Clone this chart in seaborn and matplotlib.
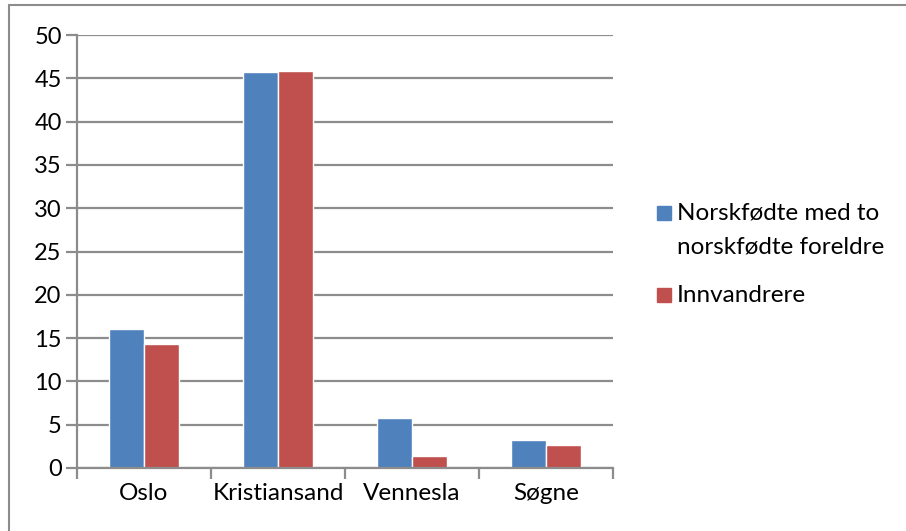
import matplotlib.pyplot as plt
import matplotlib.patches as mpatches
from matplotlib.lines import Line2D
from matplotlib.ticker import FixedLocator
import pandas as pd
import seaborn as sns

sns.set_theme(style='white')
plt.rcParams['font.family'] = ['Lato', 'DejaVu Sans']

KOMMUNER = ['Oslo', 'Kristiansand', 'Vennesla', 'Søgne']
GRUPPER = ['Norskfødte med to\nnorskfødte foreldre', 'Innvandrere']
NORSKFODTE = [16.1, 45.7, 5.8, 3.2]
INNVANDRERE = [14.3, 45.9, 1.4, 2.7]
FARGER = ['#4F81BD', '#C0504D']
GRA = '#8C8C8C'
W, H = 906, 531

df = pd.DataFrame({
    'kommune': KOMMUNER * 2,
    'verdi': NORSKFODTE + INNVANDRERE,
    'gruppe': [GRUPPER[0]] * 4 + [GRUPPER[1]] * 4,
})

fig = plt.figure(figsize=(W / 100, H / 100), dpi=100)
ax = fig.add_axes([77 / W, 63 / H, 536 / W, 433 / H])

sns.barplot(data=df, x='kommune', y='verdi', hue='gruppe', order=KOMMUNER,
            hue_order=GRUPPER, palette=FARGER, saturation=1, width=0.52,
            ax=ax, legend=False)

ax.set_ylim(0, 50)
ax.set_xlim(-0.5, 3.5)
ax.set_yticks(range(0, 51, 5))
ax.yaxis.grid(True, color=GRA, linewidth=1.6)
ax.set_axisbelow(True)
ax.set_xlabel('')
ax.set_ylabel('')

for s in ['top', 'right']:
    ax.spines[s].set_visible(False)
for s in ['left', 'bottom']:
    ax.spines[s].set_color(GRA)
    ax.spines[s].set_linewidth(1.6)

ax.tick_params(axis='y', direction='out', length=8, width=1.6, color=GRA,
               labelsize=17, pad=3, left=True, labelcolor='black')
ax.xaxis.set_minor_locator(FixedLocator([-0.5, 0.5, 1.5, 2.5, 3.5]))
ax.tick_params(axis='x', which='major', length=0, labelsize=17.5, pad=11,
               labelcolor='black')
ax.tick_params(axis='x', which='minor', direction='out', length=8, width=1.6,
               color=GRA, bottom=True)

# legend, Excel style: square aligned with the first text line
leg_items = [(FARGER[0], ['Norskfødte med to', 'norskfødte foreldre'], 213),
             (FARGER[1], ['Innvandrere'], 295)]
for farge, linjer, ypx in leg_items:
    fig.patches.append(mpatches.Rectangle((657 / W, 1 - (ypx + 7) / H), 14 / W, 14 / H,
                                          transform=fig.transFigure, color=farge))
    for i, tekst in enumerate(linjer):
        fig.text(677 / W, 1 - (ypx + 34 * i) / H, tekst, fontsize=17.5,
                 va='center', ha='left', color='black')

# outer chart frame (only left and top edges visible)
fig.lines.append(Line2D([9 / W, 9 / W], [0, 1 - 5 / H], transform=fig.transFigure,
                        color=GRA, linewidth=1.5))
fig.lines.append(Line2D([9 / W, 1], [1 - 5 / H, 1 - 5 / H], transform=fig.transFigure,
                        color=GRA, linewidth=1.5))

fig.savefig('out.png', dpi=100)
